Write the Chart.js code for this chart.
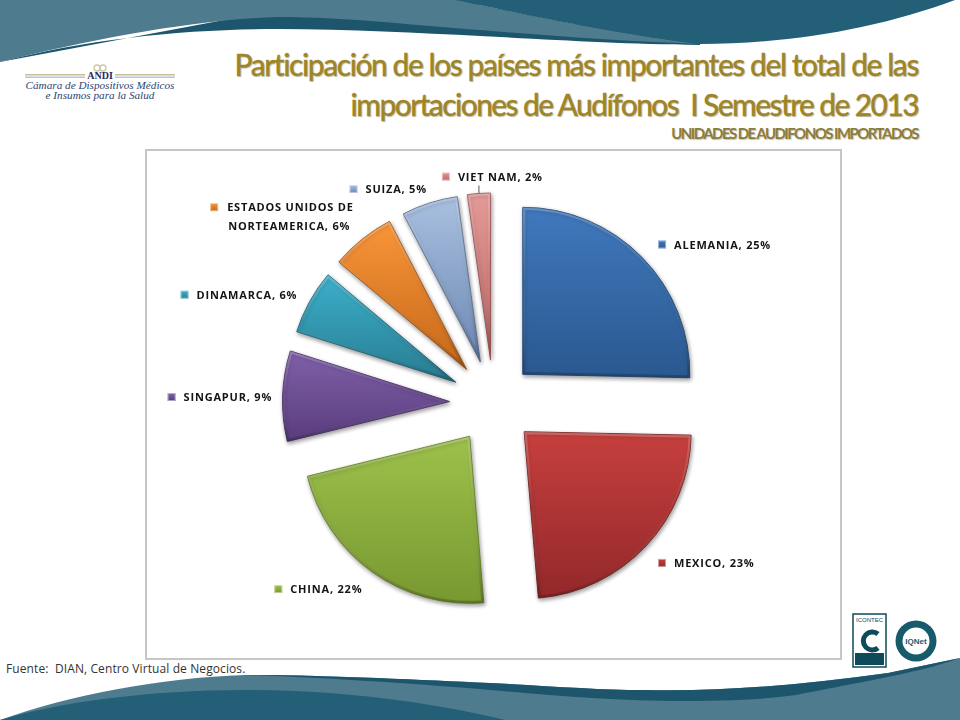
<!DOCTYPE html>
<html>
<head>
<meta charset="utf-8">
<script src="https://cdn.jsdelivr.net/npm/chart.js@4/dist/chart.umd.min.js"></script>
<style>
    html, body { margin: 0; padding: 0; background: #fff; }
    body { position: relative; width: 960px; height: 720px; overflow: hidden; font-family: Lato, "Open Sans", sans-serif; }
    .waves { position: absolute; left: 0; top: 0; }
    .panel { position: absolute; left: 145px; top: 149px; width: 693px; height: 507px; border: 2px solid #c6c6c6; background: #fff; }
    .title { position: absolute; right: 42px; text-align: right; white-space: nowrap; color: #9d8528; text-shadow: 1px 1px 1px rgba(90, 80, 40, .35); -webkit-text-stroke: .3px #9d8528; }
    .t1 { top: 46px; font-size: 30px; letter-spacing: -1.45px; font-weight: 500; }
    .t2 { top: 86px; font-size: 30px; letter-spacing: -1.6px; font-weight: 500; }
    .t3 { top: 124px; font-size: 15px; letter-spacing: -1.55px; font-weight: 700; color: #8c7c3c; -webkit-text-stroke: 0; }
    .source { position: absolute; left: 6px; top: 660px; font-size: 12px; color: #333; font-family: "Open Sans", sans-serif; letter-spacing: .1px; white-space: nowrap; }
</style>
</head>
<body>
<svg class="waves" width="960" height="720" viewBox="0 0 960 720">
    <!-- top band -->
    <path fill="#1d566c" d="M0,62 C90,38 190,29 277,29 C350,29 420,33 480,36 C560,40 620,44 700,45 L700,30 L277,10 Z"/>
    <path fill="#4f7b8e" d="M0,0 H470 L480,5 C540,17 620,34 700,44 C620,41 550,36 480,30 C420,26 350,17 277,17 C190,20 90,40 0,62 Z"/>
    <path fill="#235f77" d="M455,0 C500,9 590,30 700,44 C790,44 880,28 955,0 Z"/>
    <!-- bottom band -->
    <path fill="#4f7b8e" d="M0,720 C70,695 160,678 245,675 C330,675 420,680 490,683 C550,686 600,690 643,690 C720,692 800,685 888,673 L960,658 V720 Z"/>
    <path fill="#1d566c" d="M245,675 C330,675 420,680 490,683 C550,686 600,690 643,690 C720,692 800,685 888,673 L960,658 C920,672 888,677 796,695 C760,700 720,701 673,701 C600,700 550,695 490,690 C420,684 330,678 245,675 Z"/>
    <path fill="#235f77" d="M0,720 C60,702 150,690 245,690 C340,690 430,702 505,720 Z"/>
    <!-- ANDI logo -->
    <rect x="25" y="74" width="60" height="1.5" fill="#c9bd94"/>
    <rect x="25" y="76.5" width="60" height="1.5" fill="#b9c4d4"/>
    <rect x="115" y="74" width="60" height="1.5" fill="#c9bd94"/>
    <rect x="115" y="76.5" width="60" height="1.5" fill="#b9c4d4"/>
    <circle cx="97" cy="68" r="3" fill="none" stroke="#cfc6a8" stroke-width="1.4"/>
    <circle cx="103" cy="68" r="3" fill="none" stroke="#cfc6a8" stroke-width="1.4"/>
    <text x="100" y="79" text-anchor="middle" font-family="Liberation Serif" font-weight="700" font-size="10" fill="#1d2b5c">ANDI</text>
    <text x="100" y="89" text-anchor="middle" font-family="Liberation Serif" font-style="italic" font-size="11.2" fill="#2d4372">Cámara de Dispositivos Médicos</text>
    <text x="100" y="99" text-anchor="middle" font-family="Liberation Serif" font-style="italic" font-size="11.2" fill="#2d4372">e Insumos para la Salud</text>
    <!-- certification seals -->
    <rect x="853" y="614" width="33" height="53" fill="#fff" stroke="#0f4a5a" stroke-width="1.5"/>
    <text x="869.5" y="622" text-anchor="middle" font-family="Liberation Sans" font-size="6" fill="#0f4a5a">ICONTEC</text>
    <path d="M878,634 A9,9 0 1,0 878,648" fill="none" stroke="#0f4a5a" stroke-width="5"/>
    <rect x="855" y="653" width="29" height="12" fill="#0f4a5a"/>
    <circle cx="916" cy="641" r="20.5" fill="#175a6a"/>
    <circle cx="916" cy="641" r="13.5" fill="#fff"/>
    <text x="916" y="644" text-anchor="middle" font-family="Liberation Sans" font-weight="700" font-size="8" fill="#175a6a">IQNet</text>
</svg>
<div class="title t1">Participación de los países más importantes del total de las</div>
<div class="title t2">importaciones de Audífonos&nbsp; I Semestre de 2013</div>
<div class="title t3">UNIDADES DE AUDIFONOS IMPORTADOS</div>
<div class="panel"><canvas id="chart-pie" width="693" height="507"></canvas></div>
<div class="source">Fuente:&nbsp; DIAN, Centro Virtual de Negocios.</div>

<script>
const categories = ['ALEMANIA', 'MEXICO', 'CHINA', 'SINGAPUR', 'DINAMARCA', 'ESTADOS UNIDOS DE NORTEAMERICA', 'SUIZA', 'VIET NAM'];
const shares = [25.2, 23.2, 22.4, 8.7, 6.2, 6.2, 5.4, 2.2];

const lightColors = ['#4079bd', '#c6403e', '#9dc14c', '#8060aa', '#3cafca', '#f9953a', '#a9c0e0', '#e39a98'];
const darkColors = ['#2a5890', '#93282a', '#789830', '#593c7c', '#287c92', '#c66818', '#6c87b2', '#bb6664'];
const edgeColors = ['#234b7a', '#7d2224', '#668128', '#4c3369', '#226a7c', '#a85814', '#5c7398', '#9f5655'];
const explode = [41, 42, 41, 44, 43, 43, 43, 43];
// label marker position, measured from the outer middle of its slice
const labelShift = [[20, -13], [16, 17], [-94, 17], [-111, 1], [-125, -7], [-148, -32], [-76, -14], [-33, -17]];

function sliceBounds(arc) {
    let top = arc.y;
    let bottom = arc.y;
    for (let i = 0; i <= 24; i++) {
        const a = arc.startAngle + (arc.endAngle - arc.startAngle) * i / 24;
        const y = arc.y + Math.sin(a) * arc.outerRadius;
        top = Math.min(top, y);
        bottom = Math.max(bottom, y);
    }
    return { top, bottom };
}

const explodedSlices = {
    id: 'explodedSlices',
    afterDatasetsUpdate(chart) {
        chart.getDatasetMeta(0).data.forEach((arc, i) => {
            const mid = (arc.startAngle + arc.endAngle) / 2;
            arc.x += Math.cos(mid) * explode[i];
            arc.y += Math.sin(mid) * explode[i];
        });
    },
    beforeDatasetDraw(chart) {
        const ctx = chart.ctx;
        chart.getDatasetMeta(0).data.forEach((arc, i) => {
            const b = sliceBounds(arc);
            const fill = ctx.createLinearGradient(0, b.top, 0, b.bottom);
            fill.addColorStop(0, lightColors[i]);
            fill.addColorStop(1, darkColors[i]);
            arc.options = Object.assign({}, arc.options, { backgroundColor: fill, borderColor: edgeColors[i] });
        });
        ctx.save();
        ctx.shadowColor = 'rgba(0,0,0,0.4)';
        ctx.shadowBlur = 4;
        ctx.shadowOffsetX = 1;
        ctx.shadowOffsetY = 2;
    },
    afterDatasetDraw(chart) {
        const ctx = chart.ctx;
        ctx.restore();
        // bevel along the slice edges
        chart.getDatasetMeta(0).data.forEach(arc => {
            const b = sliceBounds(arc);
            const bevel = ctx.createLinearGradient(0, b.top, 0, b.bottom);
            bevel.addColorStop(0, 'rgba(255,255,255,0.22)');
            bevel.addColorStop(0.45, 'rgba(255,255,255,0.03)');
            bevel.addColorStop(1, 'rgba(0,0,0,0.2)');
            ctx.save();
            ctx.beginPath();
            ctx.moveTo(arc.x, arc.y);
            ctx.arc(arc.x, arc.y, arc.outerRadius, arc.startAngle, arc.endAngle);
            ctx.closePath();
            ctx.clip();
            ctx.strokeStyle = bevel;
            ctx.lineWidth = 5;
            ctx.lineJoin = 'round';
            ctx.stroke();
            ctx.restore();
        });
    },
    afterDraw(chart) {
        const ctx = chart.ctx;
        ctx.save();
        ctx.font = '700 11px "Open Sans"';
        ctx.letterSpacing = '0.8px';
        ctx.textBaseline = 'middle';
        chart.getDatasetMeta(0).data.forEach((arc, i) => {
            const mid = (arc.startAngle + arc.endAngle) / 2;
            const px = arc.x + Math.cos(mid) * arc.outerRadius;
            const py = arc.y + Math.sin(mid) * arc.outerRadius;
            const mx = px + labelShift[i][0];
            const my = py + labelShift[i][1];

            const box = ctx.createLinearGradient(0, my - 4, 0, my + 4);
            box.addColorStop(0, lightColors[i]);
            box.addColorStop(1, darkColors[i]);
            ctx.fillStyle = box;
            ctx.fillRect(mx - 4, my - 4, 8, 8);
            ctx.strokeStyle = 'rgba(255,255,255,0.5)';
            ctx.lineWidth = 1;
            ctx.strokeRect(mx - 3.5, my - 3.5, 7, 7);

            ctx.fillStyle = '#141414';
            const text = categories[i] + ', ' + Math.round(shares[i]) + '%';
            if (text.length > 30) {
                ctx.fillText('ESTADOS UNIDOS DE', mx + 13, my + 1);
                ctx.fillText(text.replace('ESTADOS UNIDOS DE ', ''), mx + 14, my + 20);
            } else {
                ctx.fillText(text, mx + 12, my + 1);
            }

            // only the narrow last slice gets a leader line
            if (shares[i] < 3) {
                ctx.strokeStyle = '#555';
                ctx.beginPath();
                ctx.moveTo(px, py);
                ctx.lineTo(px, py - 8);
                ctx.stroke();
            }
        });
        ctx.restore();
    }
};

const chartPie = document.querySelector('#chart-pie');
new Chart(chartPie.getContext('2d'), {
    type: 'pie',
    data: {
        labels: categories,
        datasets: [{
            data: shares,
            backgroundColor: lightColors,
            borderColor: edgeColors,
            borderWidth: 1,
            radius: 167,
            clip: false
        }]
    },
    options: {
        responsive: false,
        animation: false,
        events: [],
        layout: { padding: { bottom: 3 } },
        plugins: {
            legend: { display: false },
            tooltip: { enabled: false }
        }
    },
    plugins: [explodedSlices]
});
</script>
</body>
</html>
